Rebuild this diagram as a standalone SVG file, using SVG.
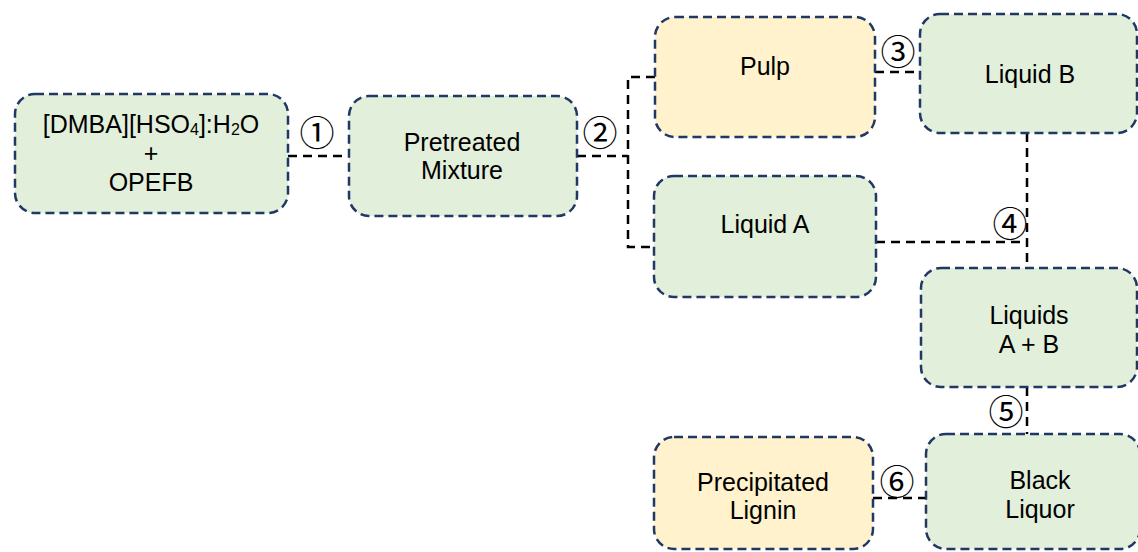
<svg xmlns="http://www.w3.org/2000/svg" width="1138" height="552" viewBox="0 0 1138 552">
  <style>
    .node { stroke: #1f3864; stroke-width: 2.5; stroke-dasharray: 9 5; }
    .green { fill: #e2efda; }
    .yellow { fill: #fff2cc; }
    .label { font-family: "Liberation Sans", Arial, sans-serif; font-size: 25px; fill: #000; text-anchor: middle; }
    .sub { font-size: 16px; }
    .wire { fill: none; stroke: #000; stroke-width: 2.5; stroke-dasharray: 9 6; }
    .step { font-family: "DejaVu Serif", "Noto Sans CJK JP", serif; font-size: 35px; fill: #000; text-anchor: middle; }
  </style>
  <rect width="1138" height="552" fill="#ffffff"/>

  <!-- connectors -->
  <g id="connectors">
    <path class="wire" d="M288 156 H349"/>
    <path class="wire" d="M577 156 H628 M655 77 H628 V247 H655"/>
    <path class="wire" d="M875 72 H920"/>
    <path class="wire" d="M1027 133 V268 M876 242 H1027"/>
    <path class="wire" d="M1027 387 V434"/>
    <path class="wire" d="M873 498 H926"/>
    <text class="step" x="317" y="146">①</text>
    <text class="step" x="600" y="146">②</text>
    <text class="step" x="898" y="65">③</text>
    <text class="step" x="1010" y="237">④</text>
    <text class="step" x="1006" y="425">⑤</text>
    <text class="step" x="897" y="495">⑥</text>
  </g>

  <g id="node-solvent">
    <rect class="node green" x="15" y="94" width="273" height="119" rx="20"/>
    <text class="label" x="151" y="133">[DMBA][HSO<tspan class="sub" dy="2">4</tspan><tspan dy="-2">]:H</tspan><tspan class="sub" dy="2">2</tspan><tspan dy="-2">O</tspan></text>
    <text class="label" x="151" y="162">+</text>
    <text class="label" x="151" y="191">OPEFB</text>
  </g>

  <g id="node-pretreated">
    <rect class="node green" x="349" y="96" width="228" height="120" rx="20"/>
    <text class="label" x="462" y="151">Pretreated</text>
    <text class="label" x="462" y="179">Mixture</text>
  </g>

  <g id="node-pulp">
    <rect class="node yellow" x="655" y="17" width="220" height="120" rx="20"/>
    <text class="label" x="765" y="75">Pulp</text>
  </g>

  <g id="node-liquid-a">
    <rect class="node green" x="654" y="176" width="222" height="121" rx="20"/>
    <text class="label" x="765" y="233">Liquid A</text>
  </g>

  <g id="node-liquid-b">
    <rect class="node green" x="920" y="14" width="217" height="119" rx="20"/>
    <text class="label" x="1030" y="83">Liquid B</text>
  </g>

  <g id="node-liquids-ab">
    <rect class="node green" x="921" y="268" width="216" height="119" rx="20"/>
    <text class="label" x="1029" y="324">Liquids</text>
    <text class="label" x="1029" y="353">A + B</text>
  </g>

  <g id="node-black-liquor">
    <rect class="node green" x="926" y="434" width="214" height="115" rx="20"/>
    <text class="label" x="1040" y="489">Black</text>
    <text class="label" x="1040" y="518">Liquor</text>
  </g>

  <g id="node-lignin">
    <rect class="node yellow" x="654" y="437" width="219" height="112" rx="20"/>
    <text class="label" x="763" y="491">Precipitated</text>
    <text class="label" x="763" y="519">Lignin</text>
  </g>
</svg>
